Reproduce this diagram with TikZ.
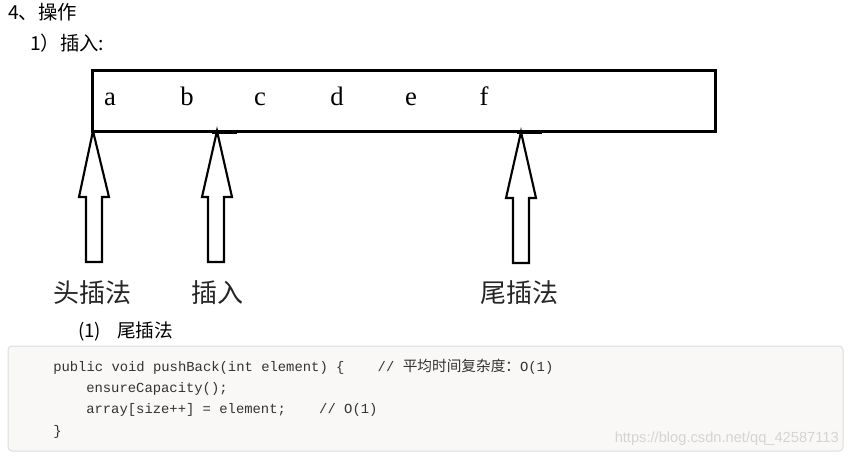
\documentclass[tikz,border=0pt]{standalone}
\usepackage{fontspec}
\setmonofont{Liberation Mono}
\newfontfamily\cjk{Noto Sans CJK SC}
\newfontfamily\wm{Liberation Sans}
\newfontfamily\lettersf{Liberation Serif}
\definecolor{codebg}{RGB}{249,248,246}
\definecolor{codeborder}{RGB}{221,221,221}
\definecolor{codetext}{RGB}{51,51,51}
\definecolor{wmgray}{RGB}{212,212,212}
\begin{document}
\begin{tikzpicture}[x=0.75pt,y=-0.75pt,
  hollow/.style={draw=black,line width=1.6pt,fill=white,line join=miter},
  lab/.style={font=\cjk\fontsize{19.5}{20}\selectfont,inner sep=0pt,text=black!85},
  head/.style={font=\cjk\fontsize{14.5}{15}\selectfont,anchor=west,inner sep=0pt},
  letter/.style={font=\lettersf\fontsize{20}{21}\selectfont,anchor=base,inner sep=0pt},
  code/.style={font=\ttfamily\fontsize{10.4}{12}\selectfont,text=codetext,anchor=west,inner sep=0pt}]
\useasboundingbox (0,0) rectangle (849,458);
\fill[white] (0,0) rectangle (849,458);
% headings
\node[head] (h4) at (8,12) {4、操作};
\node[head] (h1) at (30,43) {1）插入:};
% block arrows
\draw[hollow] (93,131) -- (109,197) -- (102,197) -- (102,262) -- (86,262) -- (86,197) -- (79,197) -- cycle;
\draw[hollow] (217,131) -- (232,197) -- (224,197) -- (224,262) -- (208,262) -- (208,197) -- (202,197) -- cycle;
\draw[hollow] (521,132) -- (536,198) -- (529,198) -- (529,263) -- (513,263) -- (513,198) -- (506,198) -- cycle;
% array box
\draw[line width=2.25pt] (92,70) rectangle (715,131);
\draw[line width=1.8pt] (212,133) -- (237,133);
\draw[line width=1.8pt] (517,133) -- (542,133);
\node[letter] (la) at (110,105) {a};
\node[letter] (lb) at (187,105) {b};
\node[letter] (lc) at (260,105) {c};
\node[letter] (ld) at (337,105) {d};
\node[letter] (le) at (411,105) {e};
\node[letter] (lf) at (484,105) {f};
% labels
\node[lab] (t1) at (92,293) {头插法};
\node[lab] (t2) at (217,293) {插入};
\node[lab] (t3) at (519,293) {尾插法};
% subheading
\node[head,font=\cjk\fontsize{14}{15}\selectfont] (s1) at (78,331) {(1)\hspace{12pt}尾插法};
% code box
\draw[codeborder,fill=codebg,rounded corners=3pt,line width=0.75pt] (8,346) rectangle (843,451);
\node[code] (c1) at (53,367) {public void pushBack(int element) \{\ \ \ \ // {\cjk\fontsize{11}{12}\selectfont 平均时间复杂度：}O(1)};
\node[code] (c2) at (86,389) {ensureCapacity();};
\node[code] (c3) at (86,410) {array[size++] = element;\ \ \ \ // O(1)};
\node[code] (c4) at (53,432) {\}};
\node[anchor=east,inner sep=0pt,font=\wm\fontsize{11}{12}\selectfont,text=wmgray] (wm) at (839,439) {https://blog.csdn.net/qq\_42587113};
\end{tikzpicture}
\end{document}
